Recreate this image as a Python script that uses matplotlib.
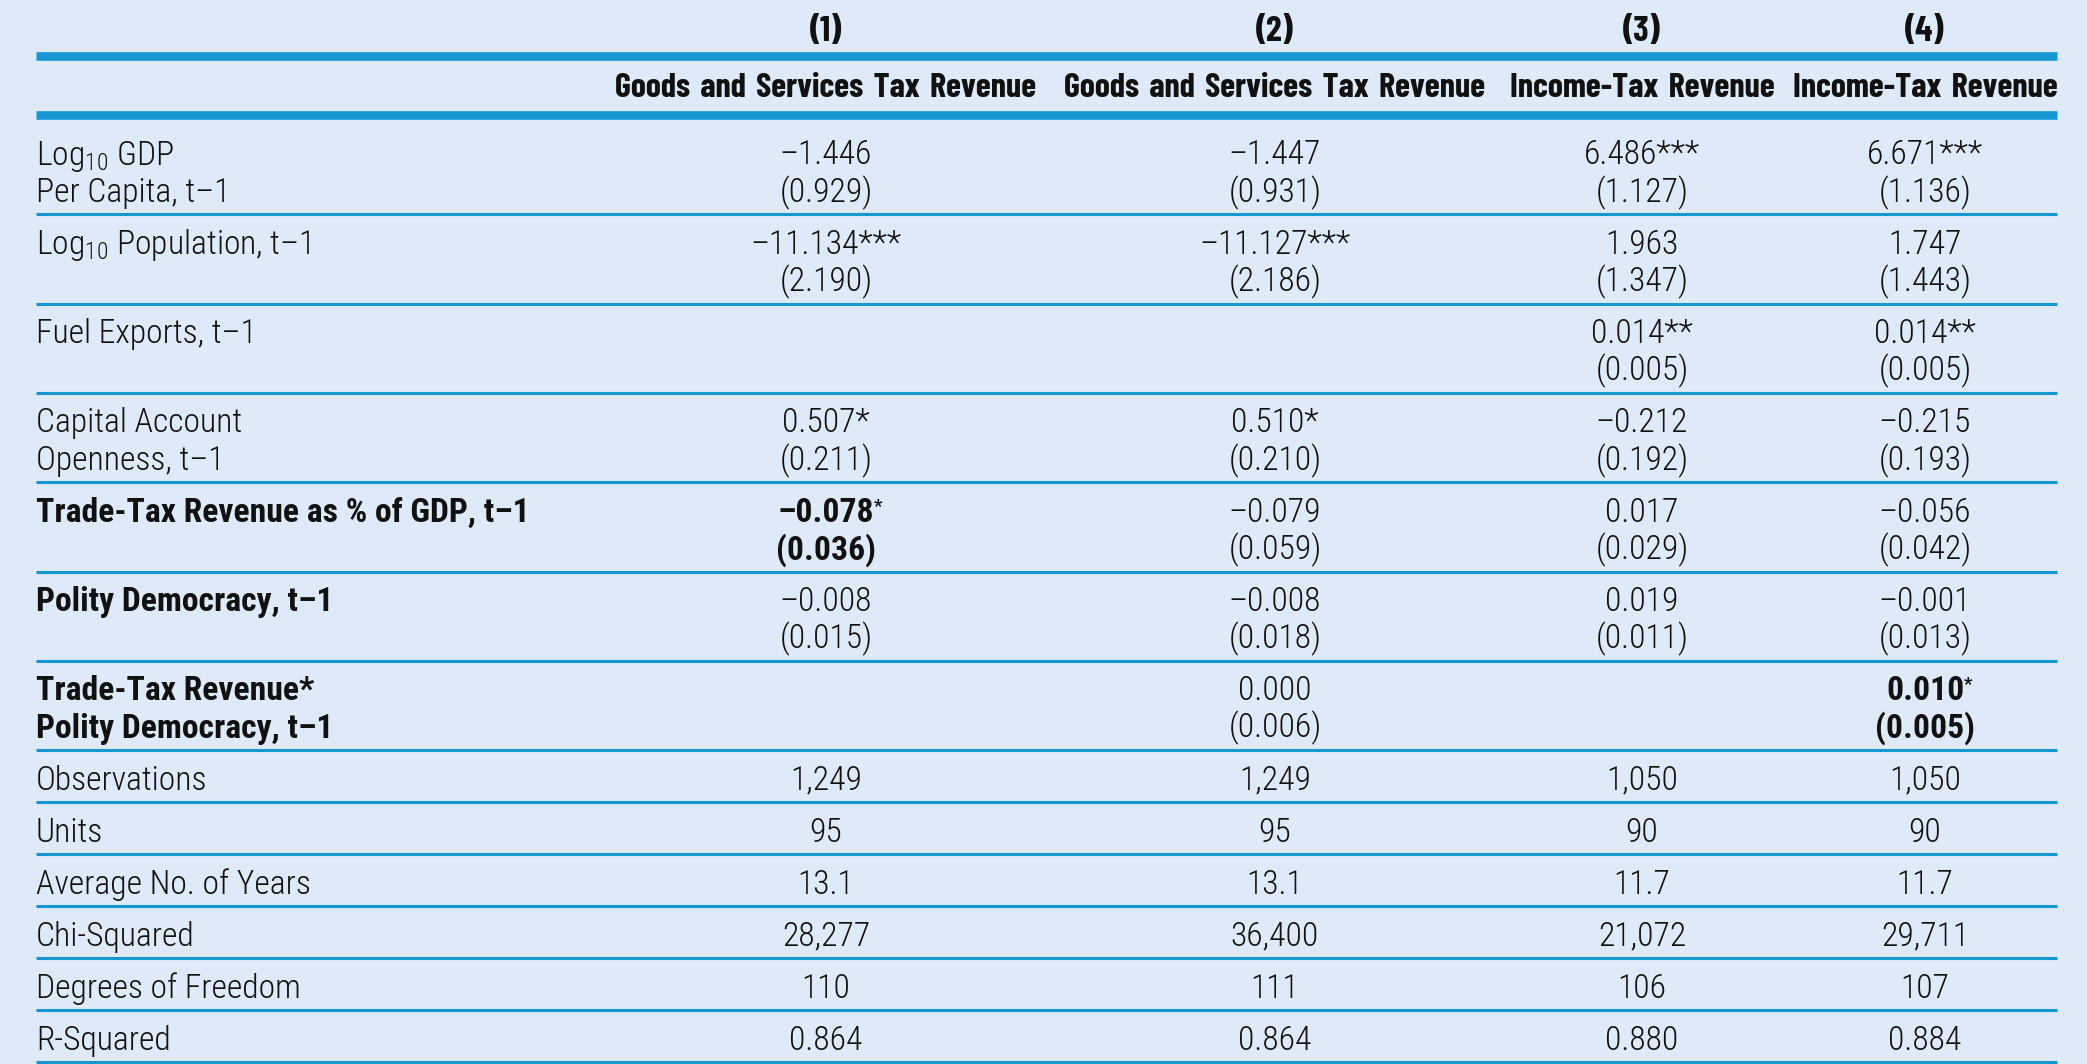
import matplotlib
matplotlib.use("Agg")
import matplotlib.pyplot as plt

# table content
models = ["(1)", "(2)", "(3)", "(4)"]
dep_vars = ["Goods and Services Tax Revenue", "Goods and Services Tax Revenue",
            "Income-Tax Revenue", "Income-Tax Revenue"]

coef_labels = [
    ["Log$_\\mathregular{10}$ GDP", "Per Capita, t–1"],
    ["Log$_\\mathregular{10}$ Population, t–1", ""],
    ["Fuel Exports, t–1", ""],
    ["Capital Account", "Openness, t–1"],
    ["Trade-Tax Revenue as % of GDP, t–1", ""],
    ["Polity Democracy, t–1", ""],
    ["Trade-Tax Revenue*", "Polity Democracy, t–1"],
]
bold_labels = [4, 5, 6]

coefs = [
    ["–1.446", "–1.447", "6.486***", "6.671***"],
    ["–11.134***", "–11.127***", "1.963", "1.747"],
    ["", "", "0.014**", "0.014**"],
    ["0.507*", "0.510*", "–0.212", "–0.215"],
    ["–0.078*", "–0.079", "0.017", "–0.056"],
    ["–0.008", "–0.008", "0.019", "–0.001"],
    ["", "0.000", "", "0.010*"],
]
ses = [
    ["(0.929)", "(0.931)", "(1.127)", "(1.136)"],
    ["(2.190)", "(2.186)", "(1.347)", "(1.443)"],
    ["", "", "(0.005)", "(0.005)"],
    ["(0.211)", "(0.210)", "(0.192)", "(0.193)"],
    ["(0.036)", "(0.059)", "(0.029)", "(0.042)"],
    ["(0.015)", "(0.018)", "(0.011)", "(0.013)"],
    ["", "(0.006)", "", "(0.005)"],
]
# cells printed in bold, their star set as a superscript
bold_cells = [(4, 0), (6, 3)]

stat_labels = ["Observations", "Units", "Average No. of Years", "Chi-Squared",
               "Degrees of Freedom", "R-Squared"]
stats = [
    ["1,249", "1,249", "1,050", "1,050"],
    ["95", "95", "90", "90"],
    ["13.1", "13.1", "11.7", "11.7"],
    ["28,277", "36,400", "21,072", "29,711"],
    ["110", "111", "106", "107"],
    ["0.864", "0.864", "0.880", "0.884"],
]

plt.rcParams["font.family"] = ["Roboto Condensed", "DejaVu Sans"]
plt.rcParams["mathtext.fontset"] = "custom"
plt.rcParams["mathtext.rm"] = "Roboto Condensed"
plt.rcParams["mathtext.it"] = "Roboto Condensed"
plt.rcParams["mathtext.bf"] = "Roboto Condensed:bold"

BG = "#deeaf7"
LINE = "#1697d4"
INK = "#111111"
HEAD_FONT = ["Barlow Condensed", "DejaVu Sans"]
W, H = 2087, 1064
LEFT, RIGHT = 36, 2057
col_x = [826, 1275, 1642, 1925]
BODY = 24.2
HEAD = 24.6

fig = plt.figure(figsize=(W / 100, H / 100), dpi=100, facecolor=BG)
ax = fig.add_axes([0, 0, 1, 1])
ax.set_xlim(0, W)
ax.set_ylim(H, 0)
ax.axis("off")

# header
for x, m, d in zip(col_x, models, dep_vars):
    ax.text(x, 41, m, ha="center", va="baseline", fontsize=HEAD + 1, weight="bold",
            family=HEAD_FONT, color=INK)
    ax.text(x, 97, d.replace(" ", " \u200a"), ha="center", va="baseline", fontsize=HEAD,
            weight="bold", family=HEAD_FONT, color=INK)
ax.hlines([56, 115], LEFT, RIGHT, color=LINE, lw=6.2)


def cell(x, y, s, bold=False, ha="center"):
    return ax.text(x, y, s, ha=ha, va="baseline", fontsize=BODY,
                   weight="bold" if bold else "light", color=INK)


# coefficient rows
top = 125
row_h = 89.3
for i, (lab, crow, srow) in enumerate(zip(coef_labels, coefs, ses)):
    y = top + i * row_h
    b = i in bold_labels
    cell(LEFT, y + 39.5, lab[0], b, ha="left")
    cell(LEFT, y + 77, lab[1], b, ha="left")
    for j, x in enumerate(col_x):
        c, s = crow[j], srow[j]
        if (i, j) in bold_cells:
            t = cell(x, y + 39.5, c.rstrip("*"), True)
            ax.annotate("*", xy=(1, 0.97), xycoords=t, ha="left", va="top",
                        fontsize=BODY * 0.55, weight="bold", color=INK)
            cell(x, y + 77, s, True)
        else:
            cell(x, y + 39.5, c)
            cell(x, y + 77, s)
    ax.hlines(y + row_h, LEFT, RIGHT, color=LINE, lw=2.2)

# summary statistics
top = top + len(coefs) * row_h
row_h = 52
for i, (lab, srow) in enumerate(zip(stat_labels, stats)):
    y = top + i * row_h
    cell(LEFT, y + 39.5, lab, ha="left")
    for x, v in zip(col_x, srow):
        cell(x, y + 39.5, v)
    ax.hlines(y + row_h, LEFT, RIGHT, color=LINE, lw=2.2)

fig.savefig("out.png", dpi=100, facecolor=BG)
